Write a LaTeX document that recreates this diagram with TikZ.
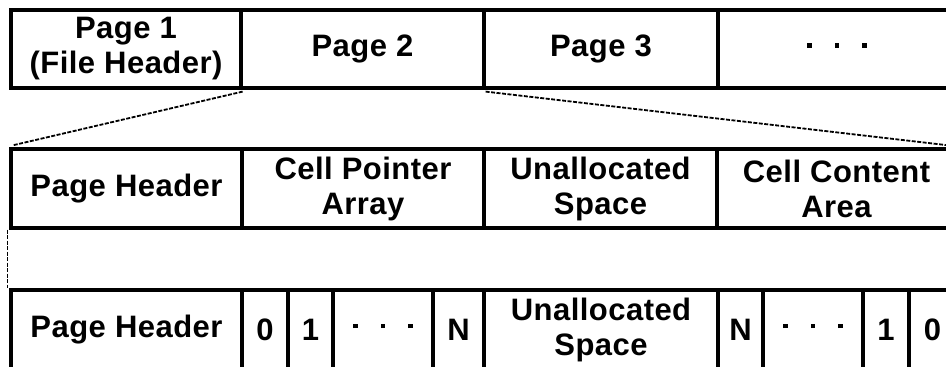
\documentclass[tikz,border=0pt]{standalone}
\usepackage{fontspec}
\setmainfont{Liberation Sans}[LetterSpace=1.5]
\newcommand\celltext{\fontsize{31}{35}\selectfont\bfseries}
\newcommand\sqdot{\rule[12pt]{4.5pt}{4.5pt}}
\newcommand\threedots{\vphantom{N}\sqdot\hspace{23pt}\sqdot\hspace{23pt}\sqdot}
\tikzset{
  cell/.style={draw, line width=3.2pt, inner sep=0pt, align=center, font=\celltext},
  conn/.style={draw, line width=1.8pt, dash pattern=on 4pt off 1.5pt}
}
\begin{document}
\begin{tikzpicture}[x=1pt,y=-1pt]
\useasboundingbox (0,0) rectangle (946,367);
\clip (0,0) rectangle (946,367);
% row 1
\node[cell, minimum width=230pt, minimum height=78pt] (p1) at (126,49) {Page 1\\(File Header)};
\node[cell, minimum width=243pt, minimum height=78pt] (p2) at (362.5,49) {Page 2};
\node[cell, minimum width=234pt, minimum height=78pt] (p3) at (601,49) {Page 3};
\node[cell, minimum width=238pt, minimum height=78pt] (p4) at (837,49) {\threedots};
% row 2
\node[cell, minimum width=231pt, minimum height=79pt] (ra) at (126.5,188.5) {Page Header};
\node[cell, minimum width=242pt, minimum height=79pt] (rb) at (363,188.5) {Cell Pointer\\Array};
\node[cell, minimum width=233pt, minimum height=79pt] (rc) at (600.5,188.5) {Unallocated\\Space};
\node[cell, minimum width=239pt, minimum height=79pt] (rd) at (836.5,188.5) {Cell Content\\Area};
% row 3
\node[cell, minimum width=231pt, minimum height=79pt] (sa) at (126.5,329.5) {Page Header};
\node[cell, minimum width=46pt, minimum height=79pt] (sb) at (265,329.5) {0};
\node[cell, minimum width=45pt, minimum height=79pt] (sc) at (310.5,329.5) {1};
\node[cell, minimum width=100pt, minimum height=79pt] (sd) at (383,329.5) {\threedots};
\node[cell, minimum width=51pt, minimum height=79pt] (se) at (458.5,329.5) {N};
\node[cell, minimum width=234pt, minimum height=79pt] (sf) at (601,329.5) {Unallocated\\Space};
\node[cell, minimum width=45pt, minimum height=79pt] (sg) at (740.5,329.5) {N};
\node[cell, minimum width=100pt, minimum height=79pt] (sh) at (813,329.5) {\threedots};
\node[cell, minimum width=46pt, minimum height=79pt] (si) at (886,329.5) {1};
\node[cell, minimum width=47pt, minimum height=79pt] (sj) at (932.5,329.5) {0};
% connectors
\draw[conn] ([yshift=-2pt]p1.south east) -- ([xshift=3pt,yshift=2pt]ra.north west);
\draw[conn] ([yshift=-2pt]p2.south east) -- ([yshift=1pt]rd.north east);
\draw[conn] ([xshift=-2pt]ra.south west) -- ([xshift=-2pt]sa.north west);
\end{tikzpicture}
\end{document}
